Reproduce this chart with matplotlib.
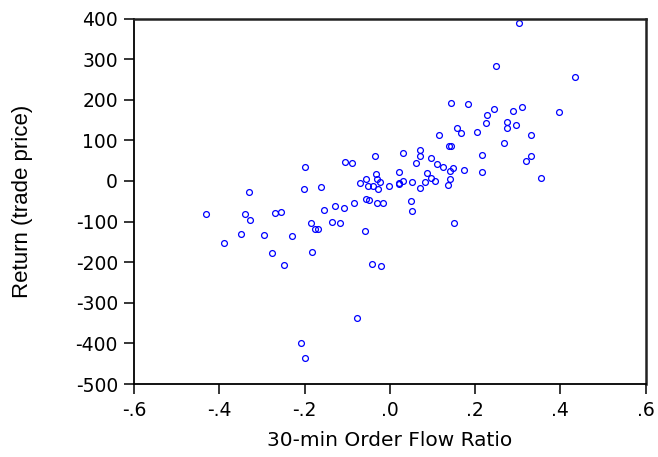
import matplotlib
matplotlib.use("Agg")
import matplotlib.pyplot as plt
from matplotlib.ticker import FixedLocator, FuncFormatter

# 30-minute order flow ratio vs. trade-price return
order_flow = [
    -0.430, -0.388, -0.348, -0.340, -0.330, -0.329, -0.296, -0.276, -0.269, -0.256,
    -0.248, -0.229, -0.209, -0.202, -0.198, -0.198, -0.185, -0.183, -0.175, -0.168,
    -0.161, -0.155, -0.136, -0.129, -0.118, -0.108, -0.104, -0.088, -0.084, -0.078,
    -0.070, -0.059, -0.056, -0.056, -0.048, -0.051, -0.040, -0.042, -0.035, -0.032,
    -0.031, -0.029, -0.027, -0.024, -0.020, -0.016, -0.002, 0.021, 0.021, 0.021,
    0.031, 0.032, 0.049, 0.052, 0.053, 0.062, 0.070, 0.070, 0.071, 0.082,
    0.087, 0.097, 0.097, 0.107, 0.111, 0.115, 0.125, 0.137, 0.139, 0.144,
    0.141, 0.142, 0.144, 0.147, 0.151, 0.158, 0.166, 0.173, 0.183, 0.205,
    0.216, 0.216, 0.226, 0.228, 0.245, 0.250, 0.267, 0.274, 0.275, 0.288,
    0.296, 0.304, 0.309, 0.319, 0.332, 0.332, 0.355, 0.396, 0.434,
]
returns = [
    -81, -153, -131, -81, -28, -95, -132, -177, -78, -76,
    -206, -135, -398, -21, 35, -437, -104, -175, -118, -118,
    -16, -72, -101, -61, -103, -67, 46, 43, -55, -337,
    -4, -124, 4, -44, -48, -13, -13, -204, 61, 16,
    -55, 4, -21, -2, -210, -55, -13, 23, -4, -8,
    70, 1, -50, -2, -73, 43, 75, -18, 61, -2,
    19, 56, 7, 1, 41, 112, 35, -10, 86, 87,
    24, 4, 191, 33, -104, 130, 117, 27, 189, 120,
    64, 21, 142, 163, 178, 282, 93, 146, 130, 172,
    137, 390, 181, 49, 114, 61, 7, 170, 256,
]

x_ticks = [-0.6, -0.4, -0.2, 0.0, 0.2, 0.4, 0.6]
y_ticks = [-500, -400, -300, -200, -100, 0, 100, 200, 300, 400]

plt.rcParams["font.family"] = ["DejaVu Sans"]

fig = plt.figure(figsize=(6.58, 4.57), dpi=100)
ax = fig.add_axes([0.2036, 0.1597, 0.7777, 0.7998])

ax.plot(order_flow, returns, linestyle="none", marker="o", markersize=4.2,
        markerfacecolor="none", markeredgecolor="#0000ff", markeredgewidth=0.9)

ax.set_xlim(-0.6, 0.6)
ax.set_ylim(-500, 400)
ax.xaxis.set_major_locator(FixedLocator(x_ticks))
ax.yaxis.set_major_locator(FixedLocator(y_ticks))

def eviews_fmt(v, pos):
    # ".2" / "-.4" style labels
    s = f"{v:.1f}"
    return s.replace("0.", ".")

ax.xaxis.set_major_formatter(FuncFormatter(eviews_fmt))
ax.yaxis.set_major_formatter(FuncFormatter(lambda v, pos: f"{int(v)}"))

ax.tick_params(direction="out", length=7.5, width=1.1, labelsize=13.5, color="black")
ax.tick_params(axis="y", pad=4)
ax.tick_params(axis="x", pad=5)
for side in ["left", "bottom"]:
    ax.spines[side].set_linewidth(1.3)
for side in ["top", "right"]:
    ax.spines[side].set_linewidth(1.8)
    ax.spines[side].set_color("#222222")

ax.set_xlabel("30-min Order Flow Ratio", fontsize=14.5, labelpad=8)
ax.set_ylabel("Return (trade price)", fontsize=16, family="Liberation Sans", labelpad=31)

fig.savefig("out.png", dpi=100)
